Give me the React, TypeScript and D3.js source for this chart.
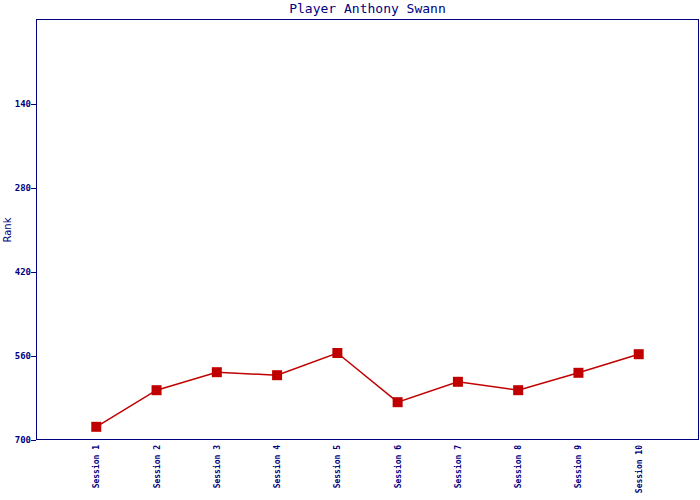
import React from "react";
import * as d3 from "d3";

const sessions = ["Session 1","Session 2","Session 3","Session 4","Session 5","Session 6","Session 7","Session 8","Session 9","Session 10"];
const ranks = [678, 617, 587, 592, 555, 637, 603, 617, 588, 557];
const yTicks = [140, 280, 420, 560, 700];

const W = 700, H = 500;
const L = 36, R = 699, T = 20, B = 440;
const blue = "#000080";
const red = "#c00000";

export default function App() {
  const x = d3.scaleLinear().domain([0, sessions.length + 1]).range([L, R]);
  const y = d3.scaleLinear().domain([0, 700]).range([T, B]);
  const line = d3.line<number>().x((_, i) => x(i + 1)).y(d => y(d));
  return (
    <svg width={W} height={H} style={{ position: "absolute", left: 0, top: 0 }}>
      <rect width={W} height={H} fill="#fff" />
      <text x={(L + R) / 2} y={13} textAnchor="middle" fontFamily="DejaVu Sans Mono" fontSize={13} fill={blue}>Player Anthony Swann</text>
      <rect x={L + 0.5} y={T - 0.5} width={R - L - 1} height={B - T} fill="none" stroke={blue} strokeWidth={1} />
      {yTicks.map(t => (
        <g key={t}>
          <line x1={L - 5} x2={L} y1={Math.round(y(t)) + 0.5} y2={Math.round(y(t)) + 0.5} stroke={blue} />
          <text x={L - 5} y={y(t) + 3} textAnchor="end" fontFamily="DejaVu Sans Mono" fontWeight="bold" fontSize={9} fill={blue}>{t}</text>
        </g>
      ))}
      <text transform={`translate(11,${(T + B) / 2}) rotate(-90)`} textAnchor="middle" fontFamily="DejaVu Sans" fontSize={10} fill={blue}>Rank</text>
      {sessions.map((s, i) => (
        <text key={s} transform={`translate(${x(i + 1) + 3},${B + 5}) rotate(-90)`} textAnchor="end" fontFamily="DejaVu Sans Mono" fontWeight="bold" fontSize={8} fill={blue}>{s}</text>
      ))}
      <path d={line(ranks) || ""} fill="none" stroke={red} strokeWidth={1.5} />
      {ranks.map((r, i) => (
        <rect key={i} x={x(i + 1) - 5} y={y(r) - 5} width={10} height={10} fill={red} />
      ))}
    </svg>
  );
}
